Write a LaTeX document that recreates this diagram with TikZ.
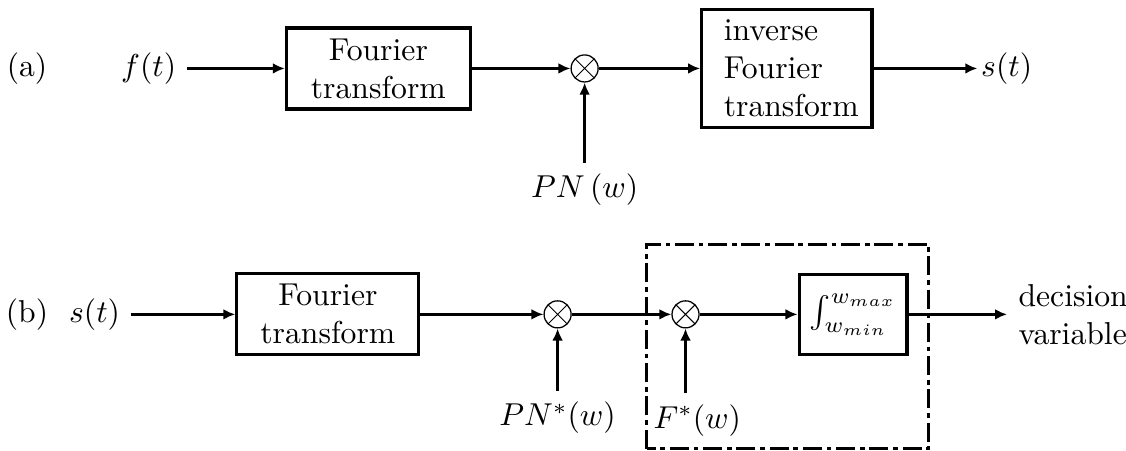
\documentclass[tikz,border=0pt]{standalone}
\usetikzlibrary{positioning,arrows.meta}
\begin{document}
\begin{tikzpicture}[
    line/.style={draw, line width=1pt, -{Latex[length=3.8pt,width=3.4pt]}},
    block/.style={draw, line width=1pt, minimum height=0.89cm, align=center},
    mult/.style={circle, draw, line width=0.4pt, minimum size=0.30cm, inner sep=0pt,
        path picture={\draw[line width=0.3pt]
            (path picture bounding box.south west) -- (path picture bounding box.north east)
            (path picture bounding box.north west) -- (path picture bounding box.south east);}},
    dashbox/.style={draw, line width=1pt, dash pattern=on 6pt off 1.5pt on 1.5pt off 1.5pt}
]
\useasboundingbox (0,0) rectangle (12.5,5.0);
\def\ya{4.24}
\def\yb{1.51}

% (a) spreading in the frequency domain
\node at (0.30,\ya) (taga) {(a)};
\node at (1.65,\ya) (ft) {$f(t)$};
\node[block, minimum width=2.04cm] at (4.20,\ya) (fta) {Fourier\\transform};
\node[mult] at (6.49,\ya) (mula) {};
\node[below=0.89cm of mula] (pn) {$PN\,(w)$};
\node[block, minimum height=1.31cm, text width=1.40cm, inner xsep=0.245cm, align=left]
    at (8.735,\ya) (ifta) {inverse\\Fourier\\transform};
\node[anchor=west, inner sep=1pt] at (10.85,\ya) (sta) {$s(t)$};

\draw[line] (ft) -- (fta);
\draw[line] (fta) -- (mula);
\draw[line] (pn) -- (mula);
\draw[line] (mula) -- (ifta);
\draw[line] (ifta) -- (sta);

% (b) despreading and correlation
\node at (0.30,\yb) (tagb) {(b)};
\node at (1.05,\yb) (stb) {$s(t)$};
\node[block, minimum width=2.02cm] at (3.64,\yb) (ftb) {Fourier\\transform};
\node[mult] at (6.19,\yb) (mulb) {};
\node[below=0.69cm of mulb] (pns) {$PN^*(w)$};
\node[mult] at (7.61,\yb) (mulc) {};
\node[below=0.72cm of mulc, xshift=0.13cm] (fs) {$F^*(w)$};
\node[block, minimum width=1.18cm] at (9.47,\yb) (intb) {$\int_{w_{min}}^{w_{max}}$};
\node[anchor=west, inner xsep=0.12cm, align=left] at (11.18,\yb) (dec) {decision\\variable};

\draw[dashbox] (7.18,0.02) rectangle (10.31,2.29);

\draw[line] (stb) -- (ftb);
\draw[line] (ftb) -- (mulb);
\draw[line] (pns) -- (mulb);
\draw[line] (mulb) -- (mulc);
\draw[line] (fs.north -| mulc) -- (mulc);
\draw[line] (mulc) -- (intb);
\draw[line] (intb) -- (dec);
\end{tikzpicture}
\end{document}
